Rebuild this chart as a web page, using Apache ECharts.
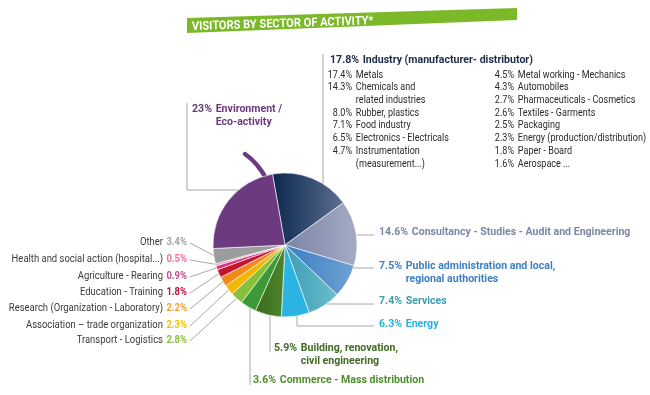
<!DOCTYPE html>
<html><head><meta charset="utf-8">
<script src="https://cdn.jsdelivr.net/npm/echarts@6/dist/echarts.min.js"></script>
<style>html,body{margin:0;padding:0;background:#fff}#c{width:650px;height:395px}</style>
</head><body><div id="c"></div>
<script>
// ---------- DATA ----------
const chartTitle = 'VISITORS BY SECTOR OF ACTIVITY*';
const sectorNames = [
  'Industry (manufacturer- distributor)',
  'Consultancy - Studies - Audit and Engineering',
  'Public administration and local,\nregional authorities',
  'Services',
  'Energy',
  'Building, renovation,\ncivil engineering',
  'Commerce - Mass distribution',
  'Transport - Logistics',
  'Association – trade organization',
  'Research (Organization - Laboratory)',
  'Education - Training',
  'Agriculture - Rearing',
  'Health and social action (hospital...)',
  'Other',
  'Environment /\nEco-activity'
];
const sectorShares = [17.8, 14.6, 7.5, 7.4, 6.3, 5.9, 3.6, 2.8, 2.3, 2.2, 1.8, 0.9, 0.5, 3.4, 23];
const industryLeftNames = ['Metals', 'Chemicals and\nrelated industries', 'Rubber, plastics', 'Food industry', 'Electronics - Electricals', 'Instrumentation\n(measurement...)'];
const industryLeftShares = [17.4, 14.3, 8.0, 7.1, 6.5, 4.7];
const industryRightNames = ['Metal working - Mechanics', 'Automobiles', 'Pharmaceuticals - Cosmetics', 'Textiles - Garments', 'Packaging', 'Energy (production/distribution)', 'Paper - Board', 'Aerospace ...'];
const industryRightShares = [4.5, 4.3, 2.7, 2.6, 2.5, 2.3, 1.8, 1.6];

// ---------- STYLE ----------
const FONT = 'Roboto, "Liberation Sans", sans-serif';
const SX_BOLD = 0.92, SX_SUB = 0.86, SX_LEFT = 0.86, SX_TITLE = 0.92;
const CX = 285, CY = 245, R = 72, START = 100;
const LINE = '#a8a8a8';
function grad(a, b) {
  return {type: 'linear', x: 0, y: 0, x2: 1, y2: 0, colorStops: [{offset: 0, color: a}, {offset: 1, color: b}]};
}
const sliceColors = [
  grad('#0c2750', '#5c7090'), grad('#7a84a6', '#a5abc3'), grad('#3a7dc3', '#6ea2d3'), grad('#3a9db4', '#6cbdcc'),
  '#2bb4e3', grad('#3b6b1e', '#4c852a'), '#3b9a36', '#86c13b', '#f2b705', '#f18a1a', '#c4122f', '#d9357a', '#f29ac0', '#9c9c9c', '#6b3a7f'
];
const labelColors = ['#1b2a4a', '#7d87a6', '#3e7fc1', '#3b9db3', '#27b0e0', '#3f6b22', '#4f8f2c',
  '#8cc03a', '#f2c200', '#f0a030', '#b5123c', '#c54a8c', '#ee6fa5', '#a6a6a6', '#6b3a7d'];

// label anchor: type r = percent then name (x = left start, y = centre of first line); l = right aligned
const labelPos = {
  0: {t: 'r', x: 330, y: 60, size: 11.5},
  1: {t: 'r', x: 379, y: 232, size: 11.5},
  2: {t: 'r', x: 379, y: 266, size: 11.5},
  3: {t: 'r', x: 379, y: 301, size: 11.5},
  4: {t: 'r', x: 379, y: 324, size: 11.5},
  5: {t: 'r', x: 274, y: 348, size: 11.5},
  6: {t: 'r', x: 253, y: 380, size: 11.5},
  7: {t: 'l', x: 187, y: 340}, 8: {t: 'l', x: 187, y: 325}, 9: {t: 'l', x: 187, y: 308},
  10: {t: 'l', x: 187, y: 292}, 11: {t: 'l', x: 187, y: 276}, 12: {t: 'l', x: 187, y: 259}, 13: {t: 'l', x: 187, y: 242},
  14: {t: 'r', x: 192, y: 109, size: 11.5}
};

// ---------- HELPERS ----------
const mctx = document.createElement('canvas').getContext('2d');
function tw(t, f) { mctx.font = f; return mctx.measureText(t).width; }
function fmt(v) { return (Number.isInteger(v) && v >= 10 ? String(v) : v.toFixed(1)) + '%'; }
const total = sectorShares.reduce((a, b) => a + b, 0);
const mids = [];
(function () { let acc = 0; sectorShares.forEach(v => { const a0 = acc / total * 360 - (START - 90); acc += v; const a1 = acc / total * 360 - (START - 90); mids.push((a0 + a1) / 2); }); })();
function pt(deg, r) { const t = deg * Math.PI / 180; return [CX + r * Math.sin(t), CY - r * Math.cos(t)]; }
function edgeX(y, side) { return CX + side * Math.sqrt(R * R - (y - CY) * (y - CY)); }
function edgeY(x, side) { return CY + side * Math.sqrt(R * R - (x - CX) * (x - CX)); }
function line(points) { return {type: 'polyline', shape: {points}, style: {stroke: LINE, lineWidth: 1, fill: null}, silent: true, z: 1}; }

const G = [];
// banner
G.push({type: 'polygon', shape: {points: [[187, 18], [517, 8], [517, 20], [187, 33]]}, style: {fill: '#7cb928'}, z: 1});
G.push({type: 'text', x: 192, y: 27, rotation: 0.032, scaleX: SX_TITLE, z: 2,
  style: {text: chartTitle, font: 'bold 12px ' + FONT, fill: '#fff', align: 'left', verticalAlign: 'middle', textAlign: 'left', textVerticalAlign: 'middle'}});
// stem
G.push({type: 'bezierCurve', shape: {x1: 245, y1: 154, cpx1: 258, cpy1: 163, x2: 267, y2: 180}, style: {stroke: '#6b3a7f', lineWidth: 4.5, lineCap: 'round', fill: null}, z: 0});

// sector labels
sectorNames.forEach((name, i) => {
  const p = labelPos[i];
  const pct = fmt(sectorShares[i]);
  const col = labelColors[i];
  if (p.t === 'r') {
    const f = 'bold ' + p.size + 'px ' + FONT;
    const pw = tw(pct, f);
    G.push({type: 'group', x: p.x, y: p.y, scaleX: SX_BOLD, children: [
      {type: 'text', x: 0, y: -6.5, style: {text: pct, font: f, fill: col, align: 'left', verticalAlign: 'top', textAlign: 'left', textVerticalAlign: 'top', lineHeight: 13}},
      {type: 'text', x: pw + 4, y: -6.5, style: {text: name, font: f, fill: col, align: 'left', verticalAlign: 'top', textAlign: 'left', textVerticalAlign: 'top', lineHeight: 13}}
    ]});
  } else {
    const fb = 'bold 11px ' + FONT, fr = '11px ' + FONT;
    const pw = tw(pct, fb);
    G.push({type: 'group', x: p.x, y: p.y, scaleX: SX_LEFT, children: [
      {type: 'text', x: 0, y: 0, style: {text: pct, font: fb, fill: col, align: 'right', verticalAlign: 'middle', textAlign: 'right', textVerticalAlign: 'middle'}},
      {type: 'text', x: -(pw + 4), y: 0, style: {text: name, font: fr, fill: '#3a3a3a', align: 'right', verticalAlign: 'middle', textAlign: 'right', textVerticalAlign: 'middle'}}
    ]});
    G.push(line([[190, p.y + 1], pt(mids[i], R - 1)]));
  }
});

// industry breakdown
function subList(names, shares, x, y0) {
  let row = 0;
  const f = '10.5px ' + FONT;
  names.forEach((n, k) => {
    G.push({type: 'group', x: x, y: y0 + row * 12.7, scaleX: SX_SUB, children: [
      {type: 'text', x: 0, y: -6.35, style: {text: shares[k].toFixed(1) + '%', font: f, fill: '#2a2a2a', align: 'right', verticalAlign: 'top', textAlign: 'right', textVerticalAlign: 'top', lineHeight: 12.7}},
      {type: 'text', x: 4.5, y: -6.35, style: {text: n, font: f, fill: '#2a2a2a', align: 'left', verticalAlign: 'top', textAlign: 'left', textVerticalAlign: 'top', lineHeight: 12.7}}
    ]});
    row += n.split('\n').length;
  });
}
subList(industryLeftNames, industryLeftShares, 352, 75);
subList(industryRightNames, industryRightShares, 514, 75);

// leader lines for the main labels
G.push(line([[323, 54], [323, edgeY(323, -1)]]));
[[1, 235], [2, 268], [3, 304]].forEach(([i, y]) => G.push(line([[edgeX(y, 1), y], [374, y]])));
G.push(line([[297, edgeY(297, 1)], [297, 326], [374, 326]]));
G.push(line([[270, edgeY(270, 1)], [270, 352]]));
G.push(line([[250, edgeY(250, 1)], [250, 385]]));
G.push(line([[187, 103], [187, 190], [edgeX(190, -1), 190]]));

const chart = echarts.init(document.getElementById('c'));
chart.setOption({
  animation: false,
  backgroundColor: '#fff',
  graphic: {elements: G},
  series: [{
    type: 'pie',
    center: [CX, CY],
    radius: R,
    startAngle: START,
    clockwise: true,
    silent: true,
    label: {show: false},
    labelLine: {show: false},
    itemStyle: {borderColor: '#ffffff', borderWidth: 0.6},
    data: sectorNames.map((n, i) => ({name: n, value: sectorShares[i], itemStyle: {color: sliceColors[i]}}))
  }]
});
</script></body></html>
